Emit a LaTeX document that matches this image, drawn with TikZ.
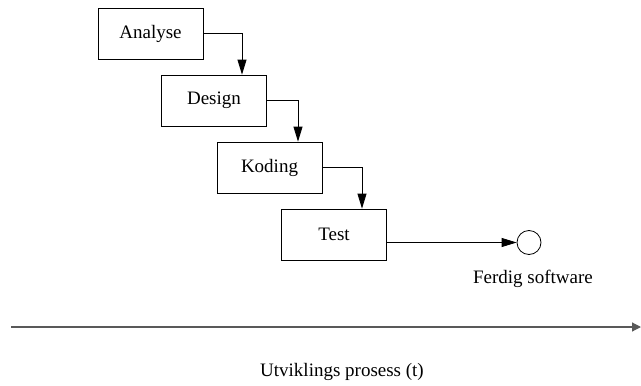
\documentclass[tikz,border=0pt]{standalone}
\usepackage{fontspec}
\setmainfont{Liberation Serif}
\usetikzlibrary{positioning,arrows.meta}

\begin{document}
\begin{tikzpicture}[x=1pt, y=-1pt, >={Triangle[length=15pt,width=9pt]}, line width=0.8pt,
  font=\fontsize{19}{22}\selectfont,
  phase/.style={draw,minimum width=105pt,minimum height=51pt,inner sep=0pt}]
  \useasboundingbox (0,0) rectangle (641,386);
  \node[phase](analyse) at (150.5,33.5){Analyse};
  \node[phase](design)  at (214,100.5){Design};
  \node[phase](koding)  at (269.5,167.5){Koding};
  \node[phase](test)    at (334,234.5){Test};
  \node[draw,circle,minimum size=24pt,inner sep=0pt](ferdig) at (529,242.5){};
  \node(ferdiglbl) at (533,279){Ferdig software};
  \draw[->](analyse.east)-|([xshift=28pt]design.north);
  \draw[->](design.east)-|([xshift=28.5pt]koding.north);
  \draw[->](koding.east)-|([xshift=28pt]test.north);
  \draw[->](test.east|-ferdig)--(ferdig);
  % tidsakse
  \coordinate (t0) at (11,327); \coordinate (t1) at (641,327);
  \draw[black!65,line width=1.2pt,-{Triangle[length=9pt,width=9pt]}](t0)--(t1);
  \node(prosess) at (342,372){Utviklings prosess (t)};
\end{tikzpicture}
\end{document}
